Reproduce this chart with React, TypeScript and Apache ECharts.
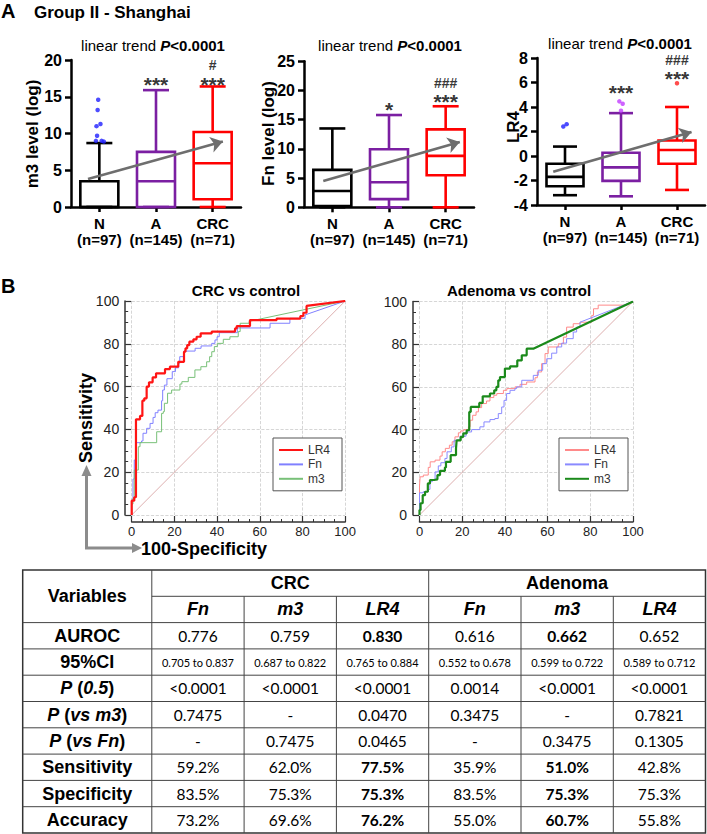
import React, { useEffect, useRef } from "react";
import * as echarts from "echarts";

const FF = '"Liberation Sans", Arial, Helvetica, sans-serif';
const VF = 'Lato, "Open Sans", sans-serif';

// ---------------- Panel A : box plots ----------------
const groups = ["N", "A", "CRC"];
const groupCounts = ["(n=97)", "(n=145)", "(n=71)"];
// [min, Q1, median, Q3, max]
const m3Stats = [
  [0, 0, 0, 3.5, 8.7],
  [0, 0, 3.5, 7.5, 15.9],
  [0, 1.05, 5.95, 10.2, 16.4],
];
const fnStats = [
  [0, 0.2, 2.8, 6.4, 13.5],
  [0, 1.4, 4.3, 9.95, 15.8],
  [0, 5.5, 8.8, 13.35, 17.3],
];
const lr4Stats = [
  [-3.2, -2.47, -1.7, -0.63, 0.77],
  [-3.29, -2.03, -0.93, 0.27, 3.5],
  [-2.77, -0.63, 0.49, 1.26, 4.0],
];
// outliers per group: [offset from group centre, value]
const m3Outliers = [
  [[-0.02, 14.6], [-0.03, 13.2], [0.02, 11.3], [-0.05, 11.0], [-0.04, 9.7], [-0.06, 9.0], [0.04, 9.0], [0.08, 8.9]],
  [],
  [],
];
const fnOutliers = [[], [], []];
const lr4Outliers = [
  [[-0.03, 2.41], [0.03, 2.6]],
  [[-0.03, 4.46], [0.03, 4.27], [0.0, 3.7]],
  [[0.0, 5.94]],
];
// trend arrows [start, end] as [group position, value]
const m3Trend = [[-0.2, 3.8], [2.18, 8.9]];
const fnTrend = [[-0.16, 4.5], [2.25, 11.2]];
const lr4Trend = [[-0.21, -1.29], [2.26, 1.95]];
// significance marks [group, value, text]
const m3Sig = [[1, 17.05, "***"], [2, 17.05, "***"], [2, 19.3, "#"]];
const fnSig = [[1, 17.2, "*"], [2, 18.5, "***"], [2, 21.3, "###"]];
const lr4Sig = [[1, 5.42, "***"], [2, 6.52, "***"], [2, 7.8, "###"]];

const boxColors = ["#000000", "#7b1fa2", "#ff0000"];
const dotColors = ["#1f1fff", "#c23cff", "#ff2020"];

// ---------------- Panel B : ROC curves (step corners, [100-specificity, sensitivity]) ----------------
const rocCrcLR4 = [[0,0],[0,6.7],[1.2,8.3],[2.0,44.7],[3.9,46.3],[5.0,53.4],[5.9,54.5],[7.0,60],[8.1,62],[9.8,64.3],[11.4,66.2],[15.6,68.2],[17.9,69.3],[21.8,71.6],[24.5,76.3],[25.2,77.9],[26,79.4],[27,81],[28.9,82.1],[30.4,83.3],[32.3,84.9],[37.5,85.7],[48.4,87.2],[49.2,88.3],[55.4,91.1],[67.9,91.8],[79,93],[80.4,94.5],[81.9,97.7]];
const rocCrcLR4Tail = [[100, 100]];
const rocCrcFn = [[0,0],[0,7],[0.6,16.8],[1.2,25.7],[2.2,33.8],[4.6,34.6],[5.3,38.2],[7.0,40.5],[8.6,42.8],[10,45.6],[11,47.8],[12.3,49],[14,53.4],[14.5,58.4],[15.3,60.7],[16.5,63.7],[19,67],[20.5,68.8],[22,70.9],[22.5,74],[24.5,76.6],[29.7,77.9],[32.5,79],[37.5,80.2],[39,81.8],[40,83.3],[41,85.2],[49.5,87.4],[64.8,89.6],[74.1,91.9],[81.2,93.5]];
const rocCrcFnTail = [[100, 100]];
const rocCrcM3 = [[0,0],[0,5.1],[0.6,7.8],[1.2,21],[3.1,31.9],[3.9,33.8],[11.7,38.9],[14,47.5],[14.8,48.3],[15.3,52.2],[16.8,56.9],[18.7,58.4],[22.6,61.2],[23.5,62.3],[26.5,64.3],[29.6,67.8],[32.4,69.3],[35.1,71.6],[36.5,74],[37.5,76.3],[38.7,78.7],[40.1,80.2],[42.9,82.1],[46,83.3],[49.9,85.7],[50.8,89.6],[55,90.5]];
const rocCrcM3Tail = [[100, 100]];

const rocAdLR4 = [[0,0],[0,13.6],[0.3,17.9],[1.8,18.7],[4.1,22.3],[5,24.9],[7.3,25.7],[9.6,27.6],[10.6,29.6],[12.1,31.2],[14,32.7],[15.3,34.3],[16.6,36.6],[18.2,38.5],[19.3,39.4],[20.8,40],[22.9,41.3],[23.7,44.4],[24.9,46.7],[26.5,48.3],[27.6,50.3],[29.1,52.2],[31.4,53.4],[33,55],[34.8,56.1],[36.2,56.9],[39.3,58.4],[40.9,59.2],[44.7,60],[47.1,61.2],[50.2,62.3],[54.1,64.3],[55.2,67],[57.2,70.9],[58.8,75.6],[60.3,78.7],[65,80.2],[67.4,83.3],[68.9,88],[72,89.6],[75.2,90.3],[80.7,93.5],[81.5,96.6],[83.7,98.3]];
const rocAdLR4Tail = [[97, 98.3], [100, 100]];
const rocAdFn = [[0,0],[0,10.4],[1.8,10.9],[4.1,12],[4.9,15.6],[6,16.4],[7.3,20.2],[8.8,23],[10,24.5],[11.9,26.5],[12.9,29.6],[14.9,31.9],[16.2,35],[19,36.9],[21.8,38.9],[24.4,40],[28.3,41.3],[30.2,43.6],[33,44.7],[35.3,45.2],[36.9,47.5],[38.5,50.6],[39.6,53.7],[40.8,56.9],[42.4,58.4],[44.7,59.2],[45.5,60],[47.9,63.1],[53.3,65.4],[55.6,67.8],[57.7,70.9],[59.6,73.2],[61.9,75.8],[64.3,78.7],[66.6,80.5],[68.9,82.6],[72,85.7],[73.6,88],[75.2,90.3]];
const rocAdFnTail = [[100, 100]];
const rocAdM3 = [[0,0],[0,2.3],[0.5,5.5],[1.5,9.3],[2.6,10.9],[3.9,14.8],[4.9,16.4],[6.8,16.7],[8.4,18.7],[9.6,20.7],[11.9,22.3],[12.4,24.9],[14.6,28],[17.1,31.2],[17.4,35],[19.3,36.6],[20.5,38.2],[22.1,39.7],[23.3,48.3],[24,50.6],[28,52.5],[29.6,55.6],[33,56.9],[35,58.4],[36,60],[36.9,63.1],[37.7,64.6],[40,68.6],[42.4,69.6],[45.8,72.4],[47.9,74.8],[50.2,77.9]];
const rocAdM3Tail = [[53.3, 77.9], [100, 100]];
const rocDiag = [[0, 0], [100, 100]];
const rocTicks = [0, 20, 40, 60, 80, 100];

// ---------------- Table ----------------
const tableGroups = ["CRC", "Adenoma"];
const tableMarkers = ["Fn", "m3", "LR4", "Fn", "m3", "LR4"];
const rowNames = ["AUROC", "95%CI", "P (0.5)", "P (vs m3)", "P (vs Fn)", "Sensitivity", "Specificity", "Accuracy"];
const aurocVals = ["0.776", "0.759", "0.830", "0.616", "0.662", "0.652"];
const ciVals = ["0.705 to 0.837", "0.687 to 0.822", "0.765 to 0.884", "0.552 to 0.678", "0.599 to 0.722", "0.589 to 0.712"];
const p05Vals = ["<0.0001", "<0.0001", "<0.0001", "0.0014", "<0.0001", "<0.0001"];
const pVsM3Vals = ["0.7475", "-", "0.0470", "0.3475", "-", "0.7821"];
const pVsFnVals = ["-", "0.7475", "0.0465", "-", "0.3475", "0.1305"];
const sensVals = ["59.2%", "62.0%", "77.5%", "35.9%", "51.0%", "42.8%"];
const specVals = ["83.5%", "75.3%", "75.3%", "83.5%", "75.3%", "75.3%"];
const accVals = ["73.2%", "69.6%", "76.2%", "55.0%", "60.7%", "55.8%"];
const tableRows = [aurocVals, ciVals, p05Vals, pVsM3Vals, pVsFnVals, sensVals, specVals, accVals];
const boldCells = [[2, 4], [], [], [], [], [2, 4], [2, 4], [2, 4]];

// ---------------- helpers ----------------
function stepPath(steps: number[][], tail: number[][]) {
  const out: number[][] = [];
  steps.forEach((p, i) => {
    if (i > 0) out.push([p[0], steps[i - 1][1]]);
    out.push(p);
  });
  tail.forEach((p) => out.push(p));
  return out;
}

function boxRenderer(boxW: number, capW: number) {
  return (params: any, api: any) => {
    const g = api.value(0);
    const lo = api.coord([g, api.value(1)]);
    const q1 = api.coord([g, api.value(2)]);
    const md = api.coord([g, api.value(3)]);
    const q3 = api.coord([g, api.value(4)]);
    const hi = api.coord([g, api.value(5)]);
    const x = lo[0];
    const color = boxColors[params.dataIndex];
    const st = { stroke: color, lineWidth: 2.6, fill: "none" };
    return {
      type: "group",
      children: [
        { type: "line", shape: { x1: x, y1: q3[1], x2: x, y2: hi[1] }, style: st },
        { type: "line", shape: { x1: x, y1: lo[1], x2: x, y2: q1[1] }, style: st },
        { type: "line", shape: { x1: x - capW / 2, y1: hi[1], x2: x + capW / 2, y2: hi[1] }, style: st },
        { type: "line", shape: { x1: x - capW / 2, y1: lo[1], x2: x + capW / 2, y2: lo[1] }, style: st },
        { type: "rect", shape: { x: x - boxW / 2, y: q3[1], width: boxW, height: q1[1] - q3[1] }, style: st },
        { type: "line", shape: { x1: x - boxW / 2, y1: md[1], x2: x + boxW / 2, y2: md[1] }, style: st },
      ],
    };
  };
}

const boxXAxis = (gi: number) => ({
  type: "category",
  gridIndex: gi,
  data: groups,
  boundaryGap: true,
  axisLine: { show: true, onZero: false, lineStyle: { color: "#000", width: 2.5 } },
  axisTick: { show: true, alignWithLabel: true, length: 5, lineStyle: { color: "#000", width: 2.5 } },
  axisLabel: {
    interval: 0,
    color: "#000",
    fontFamily: FF,
    fontWeight: "bold",
    fontSize: 15,
    lineHeight: 16,
    margin: 8,
    formatter: (v: string, i: number) => `${v}\n${groupCounts[i]}`,
  },
  splitLine: { show: false },
});
const hiddenX = (gi: number) => ({ type: "value", gridIndex: gi, min: -0.5, max: 2.5, show: false });
const boxYAxis = (gi: number, min: number, max: number, interval: number) => ({
  type: "value",
  gridIndex: gi,
  min,
  max,
  interval,
  axisLine: { show: true, onZero: false, lineStyle: { color: "#000", width: 2.5 } },
  axisTick: { show: true, length: 6, lineStyle: { color: "#000", width: 2.5 } },
  axisLabel: { color: "#000", fontFamily: FF, fontWeight: "bold", fontSize: 16, margin: 9 },
  splitLine: { show: false },
});
const rocAxisCommon = {
  type: "value",
  min: 0,
  max: 100,
  interval: 20,
  axisLine: { show: true, onZero: false, lineStyle: { color: "#333", width: 1.5 } },
  axisTick: { show: true, inside: true, length: 6, lineStyle: { color: "#333", width: 1.2 } },
  minorTick: { show: true, splitNumber: 4, length: 3, lineStyle: { color: "#333", width: 1 } },
  splitLine: { show: true, lineStyle: { color: "#cccccc", type: "dashed", width: 0.8 } },
};
const rocXAxis = (gi: number) => ({
  ...rocAxisCommon,
  gridIndex: gi,
  offset: 7,
  axisLabel: { color: "#222", fontFamily: FF, fontSize: 13, margin: 3, formatter: (v: number) => (rocTicks.includes(v) ? String(v) : "") },
});
const rocYAxis = (gi: number) => ({
  ...rocAxisCommon,
  gridIndex: gi,
  offset: 6.5,
  axisLabel: { color: "#222", fontFamily: FF, fontSize: 14, margin: 6 },
});

function boxSeries(p: number, stats: number[][], outliers: number[][][], trend: number[][], sig: any[], boxW: number, capW: number) {
  const catX = 2 * p;
  const valX = 2 * p + 1;
  const dots: any[] = [];
  outliers.forEach((list, g) =>
    list.forEach((o) => dots.push({ value: [g + o[0], o[1]], itemStyle: { color: dotColors[g] } }))
  );
  return [
    {
      type: "custom",
      xAxisIndex: catX,
      yAxisIndex: p,
      renderItem: boxRenderer(boxW, capW),
      encode: { x: 0, y: [1, 2, 3, 4, 5] },
      data: stats.map((s, g) => [g, ...s]),
      z: 2,
    },
    {
      type: "scatter",
      xAxisIndex: valX,
      yAxisIndex: p,
      symbolSize: 4.5,
      data: dots,
      z: 3,
    },
    {
      type: "lines",
      coordinateSystem: "cartesian2d",
      xAxisIndex: valX,
      yAxisIndex: p,
      symbol: ["none", "arrow"],
      symbolSize: 12,
      lineStyle: { color: "#6e6e6e", width: 2.6, opacity: 1, curveness: 0 },
      data: [{ coords: trend }],
      z: 4,
    },
    {
      type: "scatter",
      xAxisIndex: valX,
      yAxisIndex: p,
      symbolSize: 0,
      silent: true,
      data: sig.map((s) => {
        const isHash = s[2].includes("#");
        return {
          value: [s[0], s[1]],
          label: {
            show: true,
            position: "inside",
            formatter: s[2],
            color: "#000",
            fontFamily: FF,
            fontWeight: "bold",
            fontSize: isHash ? 14 : 21,
            offset: isHash ? [0, 0] : [0, 2.5],
          },
        };
      }),
      z: 5,
    },
  ];
}

function rocLine(name: string, data: number[][], color: string, width: number, xi: number, yi: number, z: number) {
  return {
    type: "line",
    name,
    xAxisIndex: xi,
    yAxisIndex: yi,
    data,
    symbol: "none",
    showSymbol: false,
    lineStyle: { color, width },
    itemStyle: { color },
    z,
    silent: true,
  };
}

function txt(x: number, y: number, text: string, font: string, extra: any = {}) {
  return {
    type: "text",
    x,
    y,
    silent: true,
    style: {
      text,
      font,
      fill: "#000",
      textAlign: "center",
      textVerticalAlign: "middle",
      align: "center",
      verticalAlign: "middle",
      ...extra,
    },
  };
}

function buildGraphics() {
  const els: any[] = [];
  const trendRich = {
    p: { fontFamily: FF, fontSize: 15, fontWeight: "bold", fontStyle: "italic" },
    v: { fontFamily: FF, fontSize: 15, fontWeight: "bold" },
  };
  els.push(txt(1, 11, "A", `bold 20px ${FF}`, { textAlign: "left", align: "left" }));
  els.push(txt(34, 12.5, "Group II - Shanghai", `bold 17px ${FF}`, { textAlign: "left", align: "left" }));
  [[153, 45], [390, 45], [620, 43]].forEach(([x, y]) => {
    els.push(txt(x, y, "linear trend {p|P}{v|<0.0001}", `15px ${FF}`, { rich: trendRich, fontFamily: FF, fontSize: 15 }));
  });
  const axisNames: [number, number, string][] = [[32, 134, "m3 level (log)"], [268, 133.5, "Fn level (log)"], [513, 127, "LR4"]];
  axisNames.forEach(([x, y, t]) => {
    const e: any = txt(x, y, t, `bold 17px ${FF}`);
    e.rotation = Math.PI / 2;
    els.push(e);
  });

  // Panel B labels
  els.push(txt(1, 286, "B", `bold 20px ${FF}`, { textAlign: "left", align: "left" }));
  els.push(txt(246, 290, "CRC vs control", `bold 15px ${FF}`));
  els.push(txt(519, 290, "Adenoma vs control", `bold 15px ${FF}`));
  const sens: any = txt(86, 418, "Sensitivity", `bold 18px ${FF}`);
  sens.rotation = Math.PI / 2;
  els.push(sens);
  els.push(txt(141, 549, "100-Specificity", `bold 18px ${FF}`, { textAlign: "left", align: "left" }));
  els.push({
    type: "polyline",
    silent: true,
    shape: { points: [[86.5, 474], [86.5, 548], [134, 548]] },
    style: { stroke: "#8c8c8c", lineWidth: 3, fill: "none" },
  });
  els.push({ type: "polygon", silent: true, shape: { points: [[81.5, 476], [91.5, 476], [86.5, 465]] }, style: { fill: "#8c8c8c" } });
  els.push({ type: "polygon", silent: true, shape: { points: [[132, 543], [132, 553], [142, 548]] }, style: { fill: "#8c8c8c" } });

  // Table
  const TX = [22.7, 151.8, 244.1, 336.4, 428.7, 521, 613.3, 705.5];
  const TY = 570;
  const RH = 26.3;
  const NR = 10;
  const bottom = TY + RH * NR;
  const ln = (x1: number, y1: number, x2: number, y2: number, w = 1) => ({
    type: "line",
    silent: true,
    shape: { x1, y1, x2, y2 },
    style: { stroke: "#444", lineWidth: w },
  });
  els.push({
    type: "rect",
    silent: true,
    shape: { x: TX[0], y: TY, width: TX[7] - TX[0], height: RH * NR },
    style: { fill: "#fff", stroke: "#333", lineWidth: 1.5 },
  });
  els.push(ln(TX[1], TY + RH, TX[7], TY + RH));
  for (let k = 2; k < NR; k++) els.push(ln(TX[0], TY + k * RH, TX[7], TY + k * RH));
  els.push(ln(TX[1], TY, TX[1], bottom));
  els.push(ln(TX[4], TY, TX[4], bottom));
  [2, 3, 5, 6].forEach((c) => els.push(ln(TX[c], TY + RH, TX[c], bottom)));

  const hdrFont = `bold 18px ${FF}`;
  els.push(txt((TX[0] + TX[1]) / 2, TY + RH, "Variables", hdrFont));
  tableGroups.forEach((g, i) => {
    const a = TX[1 + 3 * i];
    const b = TX[4 + 3 * i];
    els.push(txt((a + b) / 2, TY + RH / 2, g, hdrFont));
  });
  tableMarkers.forEach((m, c) => {
    els.push(txt((TX[c + 1] + TX[c + 2]) / 2, TY + RH * 1.5, m, `italic bold 18px ${FF}`));
  });
  const labRich = { i: { fontFamily: FF, fontSize: 18, fontWeight: "bold", fontStyle: "italic" } };
  rowNames.forEach((name, r) => {
    const y = TY + RH * (2 + r + 0.5);
    const m = name.match(/^P \((.*)\)$/);
    const t = m ? `{i|P} ({i|${m[1]}})` : name;
    els.push(txt((TX[0] + TX[1]) / 2, y, t, hdrFont, { rich: labRich, fontFamily: FF, fontSize: 18, fontWeight: "bold" }));
    tableRows[r].forEach((v, c) => {
      const bold = boldCells[r].includes(c);
      const size = r === 1 ? 11 : 15.5;
      els.push(txt((TX[c + 1] + TX[c + 2]) / 2, y, v, `${bold ? "bold " : ""}${size}px ${VF}`));
    });
  });
  return els;
}

export default function App() {
  const ref = useRef<HTMLDivElement>(null);
  useEffect(() => {
    if (!ref.current) return;
    const chart = echarts.init(ref.current, undefined, { renderer: "svg", width: 707, height: 834 });
    const legendCommon = {
      orient: "vertical",
      top: 438,
      itemWidth: 24,
      itemHeight: 10,
      itemGap: 2.4,
      padding: [6, 12, 6, 5],
      borderColor: "#555",
      borderWidth: 1,
      backgroundColor: "#fff",
      selectedMode: false,
      itemStyle: { opacity: 0 },
      textStyle: { fontFamily: FF, fontSize: 12, color: "#333" },
      formatter: (name: string) => name.split(" ")[0],
    };
    const option: any = {
      animation: false,
      backgroundColor: "#ffffff",
      grid: [
        { left: 71, top: 60, width: 170, height: 147 },
        { left: 304, top: 61.3, width: 170, height: 146 },
        { left: 537, top: 58, width: 168, height: 147 },
        { left: 131.7, top: 301, width: 213.5, height: 214 },
        { left: 419.5, top: 301.5, width: 213.5, height: 213.5 },
      ],
      xAxis: [
        boxXAxis(0), hiddenX(0),
        boxXAxis(1), hiddenX(1),
        boxXAxis(2), hiddenX(2),
        rocXAxis(3), rocXAxis(4),
      ],
      yAxis: [
        boxYAxis(0, 0, 20, 5),
        boxYAxis(1, 0, 25, 5),
        boxYAxis(2, -4, 8, 2),
        rocYAxis(3),
        rocYAxis(4),
      ],
      legend: [
        { ...legendCommon, left: 273, data: ["LR4", "Fn", "m3"] },
        { ...legendCommon, left: 559, data: ["LR4 (A)", "Fn (A)", "m3 (A)"] },
      ],
      series: [
        ...boxSeries(0, m3Stats, m3Outliers, m3Trend, m3Sig, 38, 26),
        ...boxSeries(1, fnStats, fnOutliers, fnTrend, fnSig, 38, 26),
        ...boxSeries(2, lr4Stats, lr4Outliers, lr4Trend, lr4Sig, 37, 24),
        rocLine("diag", rocDiag, "#d49a9a", 0.8, 6, 3, 1),
        rocLine("Fn", stepPath(rocCrcFn, rocCrcFnTail), "#8080ff", 1, 6, 3, 2),
        rocLine("m3", stepPath(rocCrcM3, rocCrcM3Tail), "#78c078", 1, 6, 3, 3),
        rocLine("LR4", stepPath(rocCrcLR4, rocCrcLR4Tail), "#ff1414", 2.2, 6, 3, 4),
        rocLine("diag2", rocDiag, "#d49a9a", 0.8, 7, 4, 1),
        rocLine("LR4 (A)", stepPath(rocAdLR4, rocAdLR4Tail), "#ff8a8a", 1, 7, 4, 2),
        rocLine("Fn (A)", stepPath(rocAdFn, rocAdFnTail), "#8a8aff", 1, 7, 4, 3),
        rocLine("m3 (A)", stepPath(rocAdM3, rocAdM3Tail), "#1b8a1b", 2.2, 7, 4, 4),
      ],
      graphic: { elements: buildGraphics() },
    };
    chart.setOption(option);
    return () => chart.dispose();
  }, []);
  return (
    <div
      ref={ref}
      style={{ position: "absolute", left: 0, top: 0, width: 707, height: 834, background: "#fff" }}
    />
  );
}
